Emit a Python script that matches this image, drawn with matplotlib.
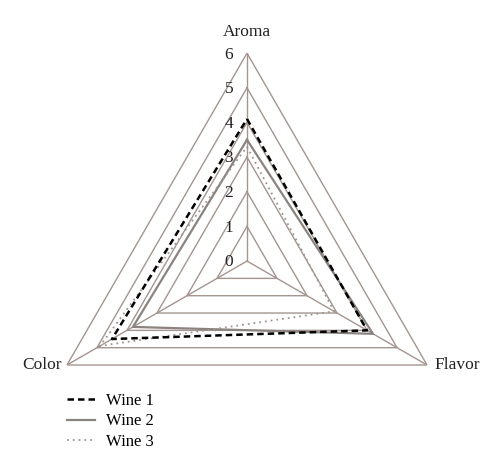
import numpy as np
import matplotlib.pyplot as plt

categories = ["Aroma", "Flavor", "Color"]
wine1 = [4.1, 4.0, 4.5]
wine2 = [3.5, 4.2, 3.8]
wine3 = [3.3, 2.9, 4.9]
levels = [1, 2, 3, 4, 5, 6]
tick_labels = ["0", "1", "2", "3", "4", "5", "6"]

plt.rcParams['font.family'] = ['Liberation Serif', 'DejaVu Serif']

grid_c = "#a39590"

fig = plt.figure(figsize=(5, 4.72), dpi=100)
ax = fig.add_axes([0.078, 0.0064, 0.832, 0.881], projection="polar")
ax.set_theta_offset(np.pi / 2)
ax.set_theta_direction(-1)
ax.set_ylim(0, 6)
ax.axis("off")

angles = np.linspace(0, 2 * np.pi, len(categories), endpoint=False)
closed = np.append(angles, angles[0])

# triangle grid
for lv in levels:
    ax.plot(closed, [lv] * len(closed), color=grid_c, lw=1.0, zorder=1)
for a in angles:
    ax.plot([a, a], [0, levels[-1]], color=grid_c, lw=1.0, zorder=1)

# tick labels left of the top spoke
for i, t in enumerate(tick_labels):
    ax.annotate(t, xy=(0, i), xytext=(-10, -1), textcoords="offset points",
                ha="right", va="center", fontsize=12.5, color="#222222")

# axis labels
ax.annotate(categories[0], xy=(angles[0], 6), xytext=(0, 15), textcoords="offset points",
            ha="center", va="center", fontsize=12.5, color="#222222")
ax.annotate(categories[1], xy=(angles[1], 6), xytext=(5, 0), textcoords="offset points",
            ha="left", va="center", fontsize=12.5, color="#222222")
ax.annotate(categories[2], xy=(angles[2], 6), xytext=(-4, 0), textcoords="offset points",
            ha="right", va="center", fontsize=12.5, color="#222222")

l1, = ax.plot(closed, wine1 + wine1[:1], color="black", lw=1.8, dashes=(2.6, 1.6), zorder=4, label="Wine 1")
l2, = ax.plot(closed, wine2 + wine2[:1], color="#8a8380", lw=1.6, zorder=3, label="Wine 2")
l3, = ax.plot(closed, wine3 + wine3[:1], color="#a0948f", lw=1.3, linestyle=(0, (1, 2.2)), zorder=3, label="Wine 3")

fig.legend(handles=[l1, l2, l3], loc="upper left", bbox_to_anchor=(0.134, 0.168),
           frameon=False, fontsize=12, handlelength=1.7, handletextpad=0.65,
           labelspacing=0.28, borderaxespad=0, borderpad=0)

fig.savefig("out.png", dpi=100)
